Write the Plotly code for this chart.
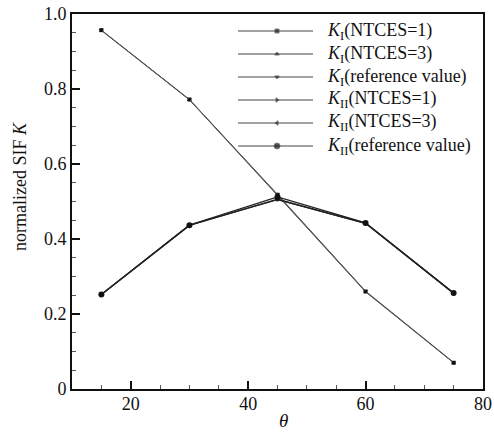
import plotly.graph_objects as go

theta = [15, 30, 45, 60, 75]
ki_n1 = [0.957, 0.772, 0.518, 0.260, 0.070]
ki_n3 = [0.956, 0.771, 0.516, 0.259, 0.070]
ki_ref = [0.957, 0.772, 0.519, 0.261, 0.071]
kii_n1 = [0.252, 0.437, 0.505, 0.442, 0.256]
kii_n3 = [0.252, 0.436, 0.506, 0.442, 0.255]
kii_ref = [0.252, 0.437, 0.512, 0.443, 0.256]

names = [
    "<i>K</i><sub>I</sub>(NTCES=1)",
    "<i>K</i><sub>I</sub>(NTCES=3)",
    "<i>K</i><sub>I</sub>(reference value)",
    "<i>K</i><sub>II</sub>(NTCES=1)",
    "<i>K</i><sub>II</sub>(NTCES=3)",
    "<i>K</i><sub>II</sub>(reference value)",
]
values = [ki_n1, ki_n3, ki_ref, kii_n1, kii_n3, kii_ref]
symbols = ["square", "triangle-up", "triangle-down", "triangle-right", "triangle-left", "circle"]
sizes = [4, 4, 4, 4, 4, 6]
colors = ["#555555", "#555555", "#555555", "#222222", "#222222", "#222222"]
widths = [1, 1, 1, 1.3, 1.3, 1.3]

font = "Times New Roman, Liberation Serif, serif"

# plot-area pixel geometry (for the hand-made legend, in axis-fraction units)
L, R, T, B = 72, 483, 14, 389
W, H = 494, 436

def fx(px):
    return (px - L) / (R - L)

def fy(py):
    return (B - py) / (B - T)

fig = go.Figure()
for name, vals, sym, size, col, w in zip(names, values, symbols, sizes, colors, widths):
    fig.add_trace(go.Scatter(
        x=theta, y=vals, name=name, mode="lines+markers", showlegend=False,
        line=dict(color=col, width=w),
        marker=dict(symbol=sym, size=size, color="#111111"),
    ))

# custom legend with long sample lines
leg_x0, leg_x1, leg_xm, txt_x = 238, 313, 277, 325
row_y = [31, 54, 77, 100, 123, 146]
annotations = []
for i, (name, sym, size, col) in enumerate(zip(names, symbols, sizes, colors)):
    y = fy(row_y[i])
    fig.add_trace(go.Scatter(
        x=[fx(leg_x0), fx(leg_xm), fx(leg_x1)], y=[y, y, y], xaxis="x2", yaxis="y2",
        mode="lines+markers", showlegend=False, hoverinfo="skip",
        line=dict(color="#444444", width=1),
        marker=dict(symbol=sym, size=[0, size, 0], color="#111111"),
    ))
    annotations.append(dict(
        x=fx(txt_x), y=y, xref="paper", yref="paper",
        text=name, showarrow=False, xanchor="left", yanchor="middle",
        font=dict(family=font, size=18, color="#111111"),
    ))

# axis titles placed as annotations
annotations.append(dict(
    x=fx(20), y=fy(186), xref="paper", yref="paper", text="normalized SIF <i>K</i>",
    textangle=-90, showarrow=False, xanchor="center", yanchor="middle",
    font=dict(family=font, size=18, color="#111111"),
))
annotations.append(dict(
    x=fx(283), y=fy(420), xref="paper", yref="paper", text="<i>θ</i>",
    showarrow=False, xanchor="center", yanchor="middle",
    font=dict(family=font, size=19, color="#111111"),
))

fig.update_layout(
    width=W, height=H,
    margin=dict(l=L, r=W - R, t=T, b=H - B, autoexpand=False),
    paper_bgcolor="white", plot_bgcolor="white",
    font=dict(family=font, size=17, color="#111111"),
    showlegend=False,
    annotations=annotations,
    xaxis=dict(
        range=[10, 80], tickvals=[20, 40, 60, 80], ticks="inside", ticklen=8,
        tickwidth=2, tickcolor="#111111",
        minor=dict(dtick=5, tick0=10, ticks="inside", ticklen=4, tickwidth=1, tickcolor="#555555"),
        showline=True, linecolor="#111111", linewidth=2, mirror=True,
        showgrid=False, zeroline=False, automargin=False,
        ticklabelstandoff=-3,
        tickfont=dict(family=font, size=18),
    ),
    yaxis=dict(
        range=[0, 1], tickvals=[0, 0.2, 0.4, 0.6, 0.8, 1.0],
        ticktext=["0", "0.2", "0.4", "0.6", "0.8", "1.0"],
        ticks="inside", ticklen=8, tickwidth=2, tickcolor="#111111",
        minor=dict(dtick=0.05, tick0=0, ticks="inside", ticklen=4, tickwidth=1, tickcolor="#555555"),
        showline=True, linecolor="#111111", linewidth=2, mirror=True,
        showgrid=False, zeroline=False, automargin=False,
        tickfont=dict(family=font, size=18),
    ),
    xaxis2=dict(range=[0, 1], overlaying="x", anchor="y2", visible=False, fixedrange=True),
    yaxis2=dict(range=[0, 1], overlaying="y", anchor="x2", visible=False, fixedrange=True),
)

fig.write_html("out.html")
